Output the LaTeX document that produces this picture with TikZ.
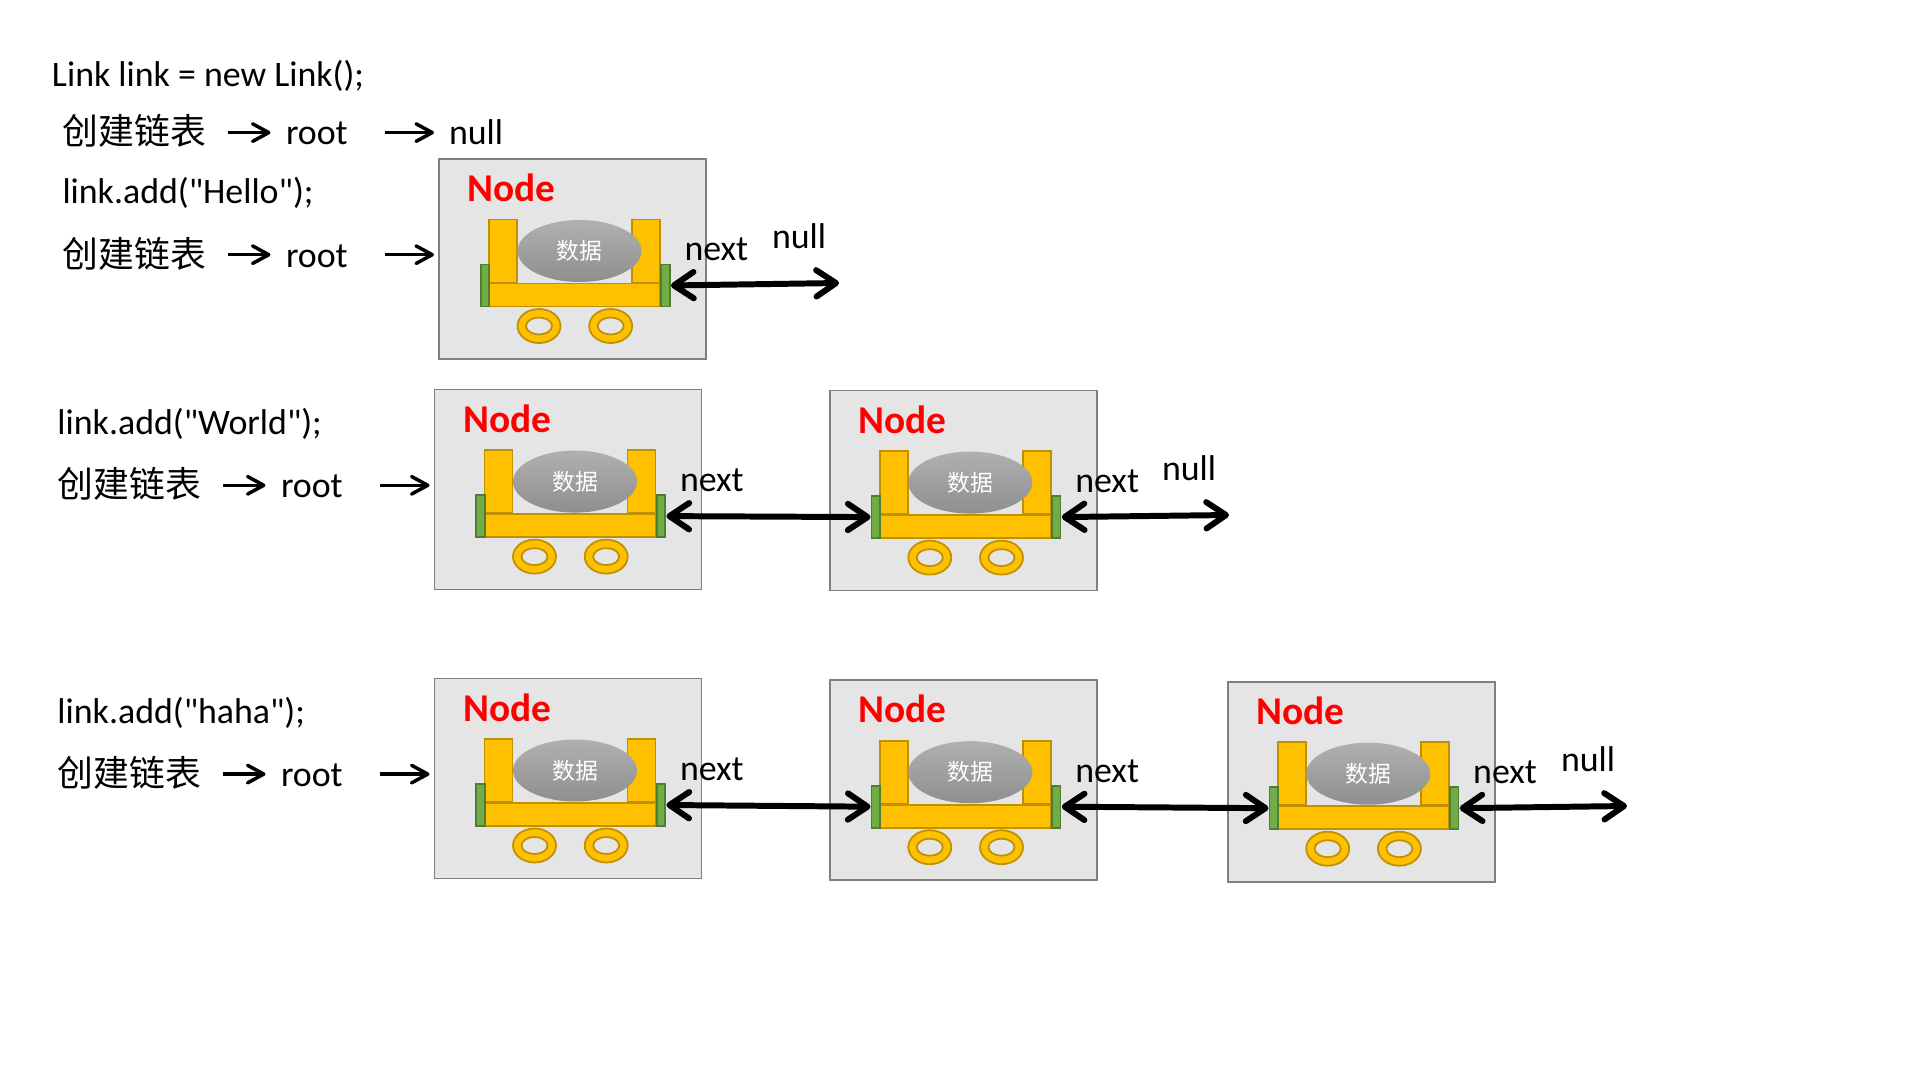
\documentclass[tikz,border=0pt]{standalone}
\usepackage{fontspec}
\setmainfont{Carlito}[Ligatures=TeXOff]
\newfontfamily\cjk{Noto Sans CJK SC}
\usetikzlibrary{arrows.meta}
\usetikzlibrary{shapes.geometric}

\definecolor{gold}{HTML}{FFC000}
\definecolor{tabgreen}{HTML}{70AD47}
\tikzset{
	txt/.style={inner sep=0pt,outer sep=0pt,anchor=base west,text height=7.7pt,text depth=.64pt,font=\fontsize{10.2}{12}\selectfont},
	hanzi/.style={txt,font=\cjk\fontsize{10.2}{12}\selectfont},
	nodebox/.style={draw=black!50,fill=black!10,line width=.5pt,anchor=north west,minimum width=2.67cm,minimum height=2cm,inner sep=0pt,outer sep=0pt},
	title/.style={inner sep=0pt,anchor=base west,text=red,font=\fontsize{11.2}{12}\selectfont\bfseries},
	gold/.style={draw=gold!75!black,fill=gold,line width=.5pt,inner sep=0pt,outer sep=0pt},
	tab/.style={draw=tabgreen!72!black,fill=tabgreen,line width=.5pt,inner sep=0pt,outer sep=0pt,minimum width=.085cm,minimum height=.42cm},
	post/.style={gold,minimum width=.28cm,minimum height=.63cm},
	wheel/.style={gold,ellipse,minimum width=.43cm,minimum height=.34cm},
	hole/.style={gold,ellipse,fill=black!10,minimum width=.26cm,minimum height=.17cm},
	data/.style={ellipse,inner sep=0pt,minimum width=1.24cm,minimum height=.62cm,top color=black!31,bottom color=black!44,text=white,font=\cjk\fontsize{6.5}{8}\selectfont},
	thin arr/.style={-{Straight Barb[round,length=4.6pt,width=5pt]},line width=1pt},
	next arr/.style={{Straight Barb[round,length=5.6pt,width=7.5pt]}-{Straight Barb[round,length=5.6pt,width=7.5pt]},line width=1.7pt,shorten <=.012cm,shorten >=.01cm},
}

%one box with the cart inside, #1 is the name, (#2,#3) the top left corner
\newcommand{\cartbox}[3]{
	\begin{scope}[shift={(#2,-#3)}]
		\node [nodebox] (#1) at (0,0) {};
		\node [title] (#1t) at (.28,-.425) {Node};
		\node [post] (#1pl) at (.64,-.92) {};
		\node [post] (#1pr) at (2.07,-.92) {};
		\node [gold,minimum width=1.71cm,minimum height=.23cm] (#1b) at (1.355,-1.36) {};
		\node [tab] (#1l) at (.46,-1.265) {};
		\node [tab] (#1r) at (2.265,-1.265) {};
		\node [data] (#1d) at (1.405,-.92) {数据};
		\node [wheel] (#1wa) at (1.00,-1.67) {};
		\node [hole] (#1ha) at (1.00,-1.67) {};
		\node [wheel] (#1wb) at (1.717,-1.67) {};
		\node [hole] (#1hb) at (1.717,-1.67) {};
		\node [txt] (#1n) at (2.455,-1.02) {next};
	\end{scope}
}

\begin{document}
\begin{tikzpicture}

	\useasboundingbox (0,0) rectangle (19.2,-10.8);

	%first lines
	\node [txt] (ln) at (.52,-.861) {Link link = new Link();};
	\node [hanzi] (c0) at (.625,-1.45) {创建链表};
	\node [txt] (r0) at (2.86,-1.45) {root};
	\node [txt] (n0) at (4.49,-1.45) {null};
	\draw [thin arr,shorten <=.22cm,shorten >=.155cm] (c0.east) -- (r0.west);
	\draw [thin arr,shorten <=.37cm,shorten >=.15cm] (r0.east) -- (n0.west);

	%Hello
	\node [txt] (add1) at (.625,-2.036) {link.add("Hello");};
	\node [hanzi] (c1) at (.625,-2.671) {创建链表};
	\node [txt] (r1) at (2.86,-2.671) {root};
	\cartbox{a}{4.39}{1.59}
	\node [txt] (na) at (7.72,-2.485) {null};
	\coordinate (ea) at (8.40,-2.83);
	\draw [thin arr,shorten <=.22cm,shorten >=.155cm] (c1.east) -- (r1.west);
	\draw [thin arr,shorten <=.37cm,shorten >=.05cm] (r1.east) -- (r1.east -| a.west);
	\draw [next arr] (ar.east) -- (ea);

	%World
	\node [txt] (add2) at (.575,-4.342) {link.add("World");};
	\node [hanzi] (c2) at (.575,-4.977) {创建链表};
	\node [txt] (r2) at (2.81,-4.977) {root};
	\cartbox{b}{4.345}{3.896}
	\cartbox{c}{8.298}{3.906}
	\node [txt] (nc) at (11.62,-4.80) {null};
	\coordinate (ec) at (12.30,-5.15);
	\draw [thin arr,shorten <=.22cm,shorten >=.155cm] (c2.east) -- (r2.west);
	\draw [thin arr,shorten <=.37cm,shorten >=.05cm] (r2.east) -- (r2.east -| b.west);
	\draw [next arr] (br.east) -- (cl.west);
	\draw [next arr] (cr.east) -- (ec);

	%haha
	\node [txt] (add3) at (.575,-7.23) {link.add("haha");};
	\node [hanzi] (c3) at (.575,-7.865) {创建链表};
	\node [txt] (r3) at (2.81,-7.865) {root};
	\cartbox{d}{4.345}{6.785}
	\cartbox{e}{8.298}{6.802}
	\cartbox{f}{12.277}{6.817}
	\node [txt] (nf) at (15.61,-7.715) {null};
	\coordinate (ef) at (16.28,-8.06);
	\draw [thin arr,shorten <=.22cm,shorten >=.155cm] (c3.east) -- (r3.west);
	\draw [thin arr,shorten <=.37cm,shorten >=.05cm] (r3.east) -- (r3.east -| d.west);
	\draw [next arr] (dr.east) -- (el.west);
	\draw [next arr] (er.east) -- (fl.west);
	\draw [next arr] (fr.east) -- (ef);

\end{tikzpicture}
\end{document}
